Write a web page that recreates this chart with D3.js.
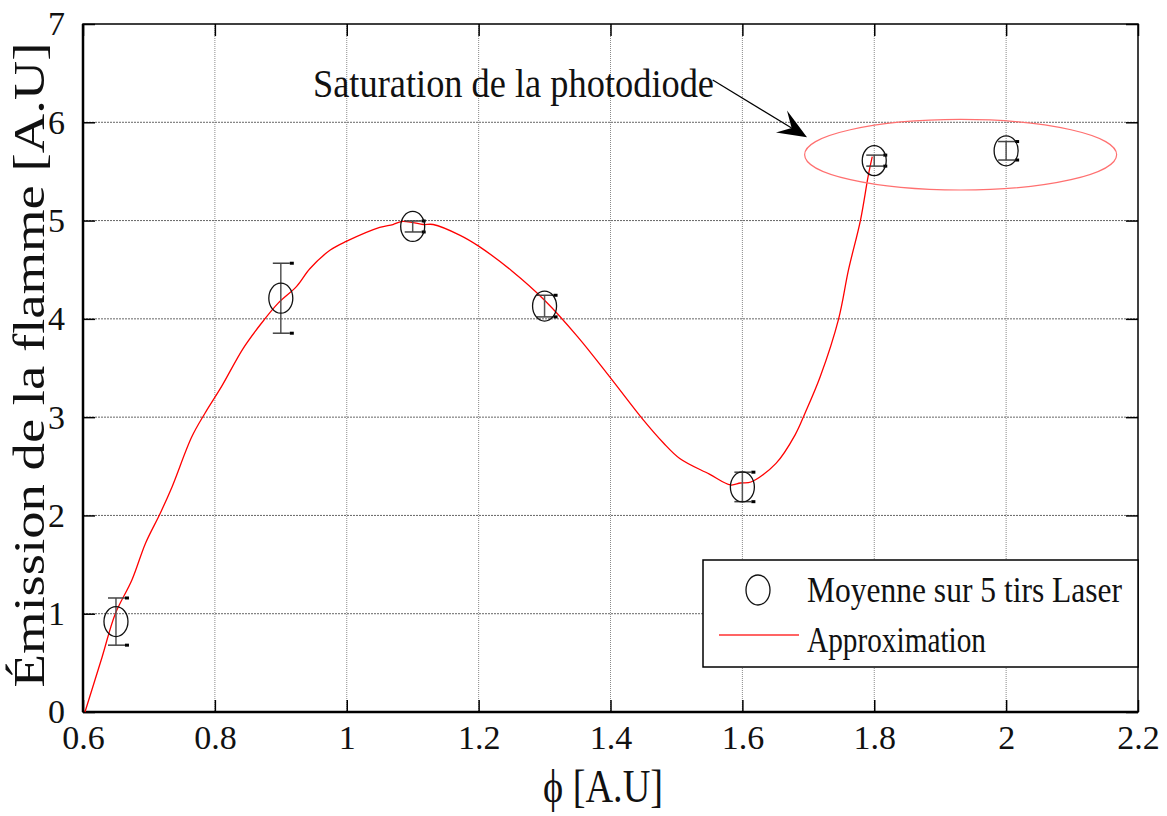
<!DOCTYPE html>
<html>
<head>
<meta charset="utf-8">
<script src="https://cdn.jsdelivr.net/npm/d3@7"></script>
<style>
  html, body { margin: 0; padding: 0; background: #fff; }
  svg { display: block; }
  text { font-family: "Liberation Serif", "DejaVu Serif", serif; fill: #111; }
</style>
</head>
<body>
<svg id="chart" width="1167" height="816"></svg>
<script>
// ---- data ----
const xTicks = [0.6, 0.8, 1.0, 1.2, 1.4, 1.6, 1.8, 2.0, 2.2];
const xTickLabels = ["0.6", "0.8", "1", "1.2", "1.4", "1.6", "1.8", "2", "2.2"];
const yTicks = [0, 1, 2, 3, 4, 5, 6, 7];
const yTickLabels = ["0", "1", "2", "3", "4", "5", "6", "7"];

const pointX = [0.65, 0.9, 1.1, 1.3, 1.6, 1.8, 2.0];
const pointY = [0.92, 4.21, 4.94, 4.13, 2.29, 5.61, 5.71];
const pointErr = [0.24, 0.356, 0.056, 0.11, 0.15, 0.056, 0.094];

const curveX = [0.603, 0.629, 0.649, 0.674, 0.695, 0.717, 0.735, 0.765, 0.785, 0.81, 0.843, 0.87, 0.896, 0.924, 0.944, 0.975, 1.0, 1.05, 1.07, 1.083, 1.1, 1.116, 1.131, 1.172, 1.2, 1.25, 1.3, 1.35, 1.4, 1.45, 1.48, 1.505, 1.55, 1.582, 1.597, 1.613, 1.651, 1.68, 1.695, 1.718, 1.746, 1.761, 1.779, 1.791, 1.797];
const curveY = [0.0, 0.56, 1.0, 1.34, 1.72, 2.02, 2.29, 2.8, 3.04, 3.31, 3.70, 3.95, 4.16, 4.33, 4.51, 4.70, 4.79, 4.93, 4.96, 4.99, 4.98, 4.96, 4.96, 4.85, 4.74, 4.49, 4.19, 3.82, 3.40, 2.97, 2.74, 2.58, 2.42, 2.31, 2.33, 2.34, 2.53, 2.82, 3.04, 3.41, 4.00, 4.50, 5.00, 5.46, 5.65];

const legendLabels = ["Moyenne sur 5 tirs Laser", "Approximation"];
const annotationText = "Saturation de la photodiode";
const xLabel = "\u03D5 [A.U]";
const yLabel = "\u00C9mission de la flamme [A.U]";

// annotation geometry in data units
const arrowFrom = [1.555, 6.43];
const arrowTo = [1.698, 5.847];
const satEllipse = { cx: 1.931, cy: 5.67, rx: 0.2366, ry: 0.359 };

// ---- layout ----
const W = 1167, H = 816;
const m = { left: 83, right: 1138, top: 24, bottom: 712 };
const svg = d3.select("#chart");

const x = d3.scaleLinear().domain([0.6, 2.2]).range([m.left, m.right]);
const y = d3.scaleLinear().domain([0, 7]).range([m.bottom, m.top]);

svg.append("rect").attr("width", W).attr("height", H).attr("fill", "#fff");

// grid
const grid = svg.append("g");
grid.selectAll("line.vg").data(xTicks.slice(1, -1)).enter().append("line")
  .attr("x1", d => x(d)).attr("x2", d => x(d))
  .attr("y1", m.top).attr("y2", m.bottom)
  .attr("stroke", "#8a8a8a").attr("stroke-width", 1).attr("stroke-dasharray", "1,1");
grid.selectAll("line.hg").data(yTicks.slice(1, -1)).enter().append("line")
  .attr("x1", m.left).attr("x2", m.right)
  .attr("y1", d => y(d)).attr("y2", d => y(d))
  .attr("stroke", "#666").attr("stroke-width", 1).attr("stroke-dasharray", "2,1");

// axes (d3 axes with inner ticks)
const tl = 12;
const axB = svg.append("g").attr("transform", `translate(0,${m.bottom})`)
  .call(d3.axisBottom(x).tickValues(xTicks).tickFormat((d, i) => xTickLabels[i]).tickSizeInner(-tl).tickSizeOuter(0).tickPadding(tl + 16));
const axT = svg.append("g").attr("transform", `translate(0,${m.top})`)
  .call(d3.axisTop(x).tickValues(xTicks).tickFormat("").tickSizeInner(-tl).tickSizeOuter(0));
const axL = svg.append("g").attr("transform", `translate(${m.left},0)`)
  .call(d3.axisLeft(y).tickValues(yTicks).tickFormat((d, i) => yTickLabels[i]).tickSizeInner(-tl).tickSizeOuter(0).tickPadding(tl + 6));
const axR = svg.append("g").attr("transform", `translate(${m.right},0)`)
  .call(d3.axisRight(y).tickValues(yTicks).tickFormat("").tickSizeInner(-tl).tickSizeOuter(0));
[axB, axT, axL, axR].forEach(a => {
  a.select(".domain").remove();
  a.selectAll(".tick line").attr("stroke", "#000").attr("stroke-width", 1.5);
  a.selectAll("text").attr("font-family", "Liberation Serif, serif").attr("font-size", 34).attr("fill", "#111");
});
axB.selectAll("text").attr("dy", "0.25em");
// box
svg.append("rect").attr("x", m.left).attr("y", m.top)
  .attr("width", m.right - m.left).attr("height", m.bottom - m.top)
  .attr("fill", "none").attr("stroke", "#000").attr("stroke-width", 1.5);
svg.append("line").attr("x1", m.left).attr("x2", m.left).attr("y1", m.top).attr("y2", m.bottom)
  .attr("stroke", "#000").attr("stroke-width", 2.5);
svg.append("line").attr("x1", m.left).attr("x2", m.right).attr("y1", m.bottom).attr("y2", m.bottom)
  .attr("stroke", "#000").attr("stroke-width", 2.5);

// fitted curve
const line = d3.line().x(d => x(d[0])).y(d => y(d[1])).curve(d3.curveCatmullRom.alpha(0.5));
svg.append("path").datum(curveX.map((v, i) => [v, curveY[i]]))
  .attr("d", line).attr("fill", "none").attr("stroke", "#ff0000").attr("stroke-width", 1.3);

// error bars + markers
const pts = pointX.map((v, i) => ({ x: v, y: pointY[i], e: pointErr[i] }));
const eb = svg.append("g");
pts.forEach(p => {
  const cx = x(p.x), top = y(p.y + p.e), bot = y(p.y - p.e);
  eb.append("line").attr("x1", cx).attr("x2", cx).attr("y1", top).attr("y2", bot)
    .attr("stroke", "#555").attr("stroke-width", 1.5);
  [top, bot].forEach(yy => {
    eb.append("line").attr("x1", cx - 8).attr("x2", cx + 9).attr("y1", yy).attr("y2", yy)
      .attr("stroke", "#444").attr("stroke-width", 1.5);
    eb.append("rect").attr("x", cx + 9).attr("y", yy - 1.5).attr("width", 4).attr("height", 3).attr("fill", "#000");
  });
  eb.append("ellipse").attr("cx", cx).attr("cy", y(p.y)).attr("rx", 12).attr("ry", 15)
    .attr("fill", "none").attr("stroke", "#111").attr("stroke-width", 1.3);
});

// saturation ellipse
svg.append("ellipse")
  .attr("cx", x(satEllipse.cx)).attr("cy", y(satEllipse.cy))
  .attr("rx", x(satEllipse.cx + satEllipse.rx) - x(satEllipse.cx))
  .attr("ry", y(satEllipse.cy) - y(satEllipse.cy + satEllipse.ry))
  .attr("fill", "none").attr("stroke", "#ff7070").attr("stroke-width", 1.2);

// arrow annotation
{
  const x0 = x(arrowFrom[0]), y0 = y(arrowFrom[1]);
  const x1 = x(arrowTo[0]), y1 = y(arrowTo[1]);
  const dx = x1 - x0, dy = y1 - y0, L = Math.hypot(dx, dy);
  const ux = dx / L, uy = dy / L, px = -uy, py = ux;
  const P = (a, b) => [x1 + ux * a + px * b, y1 + uy * a + py * b];
  const notch = P(-18, 0);
  svg.append("line").attr("x1", x0).attr("y1", y0).attr("x2", notch[0]).attr("y2", notch[1])
    .attr("stroke", "#000").attr("stroke-width", 1.2);
  svg.append("polygon")
    .attr("points", [P(0, 0), P(-31, -12.5), notch, P(-29, 12)].map(p => p.join(",")).join(" "))
    .attr("fill", "#000");
  svg.append("text").attr("x", 313).attr("y", 97)
    .attr("font-size", 40).attr("textLength", 401).attr("lengthAdjust", "spacingAndGlyphs")
    .text(annotationText);
}

// legend
{
  const lx = 703, ly = 560, lw = m.right - lx, lh = 107;
  const lg = svg.append("g");
  lg.append("rect").attr("x", lx).attr("y", ly).attr("width", lw).attr("height", lh)
    .attr("fill", "#fff").attr("stroke", "#000").attr("stroke-width", 1.5);
  lg.append("ellipse").attr("cx", 758).attr("cy", 590).attr("rx", 12).attr("ry", 15)
    .attr("fill", "none").attr("stroke", "#111").attr("stroke-width", 1.3);
  lg.append("line").attr("x1", 719).attr("x2", 799).attr("y1", 635).attr("y2", 635)
    .attr("stroke", "#ff3030").attr("stroke-width", 1.3);
  lg.append("text").attr("x", 807).attr("y", 602).attr("font-size", 35)
    .attr("textLength", 315).attr("lengthAdjust", "spacingAndGlyphs").text(legendLabels[0]);
  lg.append("text").attr("x", 807).attr("y", 652).attr("font-size", 35)
    .attr("textLength", 179).attr("lengthAdjust", "spacingAndGlyphs").text(legendLabels[1]);
}

// axis labels
svg.append("text").attr("x", 603).attr("y", 802).attr("text-anchor", "middle")
  .attr("font-size", 46).attr("textLength", 120).attr("lengthAdjust", "spacingAndGlyphs").text(xLabel);
svg.append("text").attr("transform", "translate(44,365) rotate(-90)").attr("text-anchor", "middle")
  .attr("font-size", 45).attr("textLength", 645).attr("lengthAdjust", "spacingAndGlyphs").text(yLabel);
</script>
</body>
</html>
